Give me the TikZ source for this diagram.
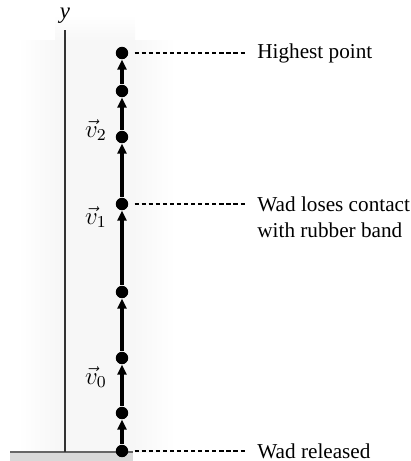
\documentclass[tikz,border=0pt]{standalone}
\usepackage{amsmath}
\usepackage{fontspec}
\setmainfont{Liberation Serif}
\usetikzlibrary{arrows.meta}
\tikzset{
  dot/.style={circle, fill=black, inner sep=0pt, minimum size=0.21cm},
  vel/.style={line width=1.7pt, -{Triangle[length=0.17cm, width=0.15cm]}},
  guide/.style={dashed, dash pattern=on 2pt off 1.4pt, line width=0.5pt},
  tag/.style={anchor=west, inner sep=0pt, font=\fontsize{10.2pt}{12.5pt}\selectfont, align=left}
}

\begin{document}
\begin{tikzpicture}[x=0.0169cm, y=-0.0169cm]
\useasboundingbox (0,0) rectangle (410,461);

\shade[left color=white, right color=black!3] (18,40) rectangle (55,452);
\fill[black!3] (55,40) rectangle (135,452);
\shade[left color=black!3, right color=white] (135,40) rectangle (175,452);
\shade[top color=white, bottom color=black!3] (55,15) rectangle (135,40);
\fill[black!15] (10,452) rectangle (133,461);
\draw[black!60, line width=0.6pt] (10,452) -- (133,452);

\draw[black!80, line width=0.5pt] (65,30) -- (65,452);
\node[font=\itshape\fontsize{11pt}{12pt}\selectfont] (ylab) at (65,16) {y};

\foreach \i/\y in {0/451, 1/413, 2/358, 3/292, 4/204, 5/137, 6/91, 7/53}
  \node[dot] (d\i) at (122,\y) {};
\foreach \a/\b in {0/1, 1/2, 2/3, 3/4, 4/5, 5/6, 6/7}
  \draw[vel] (d\a) -- (d\b);

\node[font=\large] (v0) at (96,377) {$\vec{v}_0$};
\node[font=\large] (v1) at (96,217) {$\vec{v}_1$};
\node[font=\large] (v2) at (96,130) {$\vec{v}_2$};

\node[tag] (top) at (257,53) {Highest point};
\node[tag, anchor=north west] (lose) at (257,196) {Wad loses contact\\with rubber band};
\node[tag] (start) at (257,451) {Wad released};

\draw[guide, shorten <=0.1cm, shorten >=0.17cm] (d7) -- (top.west);
\draw[guide, shorten <=0.1cm, shorten >=0.17cm] (d4) -- (d4 -| lose.west);
\draw[guide, shorten <=0.1cm, shorten >=0.17cm] (d0) -- (start.west);
\end{tikzpicture}
\end{document}
